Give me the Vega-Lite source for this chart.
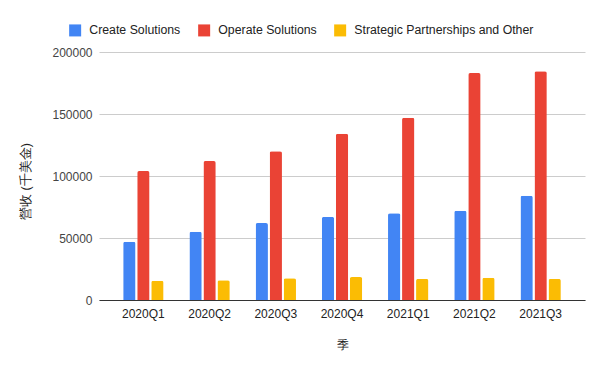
{
  "$schema": "https://vega.github.io/schema/vega-lite/v6.json",
  "width": 486,
  "height": 248,
  "autosize": "none",
  "padding": {"left": 99, "top": 52, "right": 15, "bottom": 71},
  "background": "white",
  "config": {
    "font": "Liberation Sans",
    "view": {"stroke": null}
  },
  "data": {
    "values": [
      {"quarter": "2020Q1", "series": "Create Solutions", "value": 47000},
      {"quarter": "2020Q1", "series": "Operate Solutions", "value": 104000},
      {"quarter": "2020Q1", "series": "Strategic Partnerships and Other", "value": 15500},
      {"quarter": "2020Q2", "series": "Create Solutions", "value": 55000},
      {"quarter": "2020Q2", "series": "Operate Solutions", "value": 112000},
      {"quarter": "2020Q2", "series": "Strategic Partnerships and Other", "value": 16000},
      {"quarter": "2020Q3", "series": "Create Solutions", "value": 62000},
      {"quarter": "2020Q3", "series": "Operate Solutions", "value": 120000},
      {"quarter": "2020Q3", "series": "Strategic Partnerships and Other", "value": 17500},
      {"quarter": "2020Q4", "series": "Create Solutions", "value": 67000},
      {"quarter": "2020Q4", "series": "Operate Solutions", "value": 134000},
      {"quarter": "2020Q4", "series": "Strategic Partnerships and Other", "value": 18500},
      {"quarter": "2021Q1", "series": "Create Solutions", "value": 70000},
      {"quarter": "2021Q1", "series": "Operate Solutions", "value": 147000},
      {"quarter": "2021Q1", "series": "Strategic Partnerships and Other", "value": 17000},
      {"quarter": "2021Q2", "series": "Create Solutions", "value": 72000},
      {"quarter": "2021Q2", "series": "Operate Solutions", "value": 183000},
      {"quarter": "2021Q2", "series": "Strategic Partnerships and Other", "value": 18000},
      {"quarter": "2021Q3", "series": "Create Solutions", "value": 84000},
      {"quarter": "2021Q3", "series": "Operate Solutions", "value": 184500},
      {"quarter": "2021Q3", "series": "Strategic Partnerships and Other", "value": 17000}
    ]
  },
  "mark": {"type": "bar", "cornerRadiusTopLeft": 2, "cornerRadiusTopRight": 2},
  "encoding": {
    "x": {
      "field": "quarter",
      "type": "nominal",
      "scale": {"paddingInner": 0.39, "paddingOuter": 0.365},
      "axis": {
        "title": "季",
        "labelAngle": 0,
        "ticks": false,
        "labelPadding": 8,
        "labelFontSize": 12,
        "labelColor": "#222222",
        "domainColor": "#333333",
        "titleFontSize": 12,
        "titleFontWeight": "normal",
        "titleColor": "#222222",
        "titleY": 44,
        "titleBaseline": "middle"
      }
    },
    "xOffset": {
      "field": "series",
      "type": "nominal",
      "scale": {"paddingInner": 0.12}
    },
    "y": {
      "field": "value",
      "type": "quantitative",
      "scale": {"domain": [0, 200000]},
      "axis": {
        "title": "營收 (千美金)",
        "values": [0, 50000, 100000, 150000, 200000],
        "format": "d",
        "domain": false,
        "ticks": false,
        "labelPadding": 7,
        "labelFontSize": 12,
        "labelColor": "#444444",
        "gridColor": "#cccccc",
        "titleFontSize": 12.5,
        "titleFontWeight": "normal",
        "titleColor": "#222222",
        "titleX": -74,
        "titleY": 129,
        "titleAngle": -90,
        "titleAlign": "center",
        "titleBaseline": "middle"
      }
    },
    "color": {
      "field": "series",
      "type": "nominal",
      "scale": {
        "domain": ["Create Solutions", "Operate Solutions", "Strategic Partnerships and Other"],
        "range": ["#4285F4", "#EA4335", "#FBBC04"]
      },
      "legend": {
        "title": null,
        "orient": "none",
        "direction": "horizontal",
        "legendX": -30,
        "legendY": -28,
        "symbolType": "square",
        "symbolSize": 144,
        "symbolStrokeWidth": 0,
        "symbolOpacity": 1,
        "labelFontSize": 12.3,
        "labelColor": "#222222",
        "labelOffset": 8,
        "labelLimit": 400,
        "columnPadding": 17
      }
    }
  }
}
